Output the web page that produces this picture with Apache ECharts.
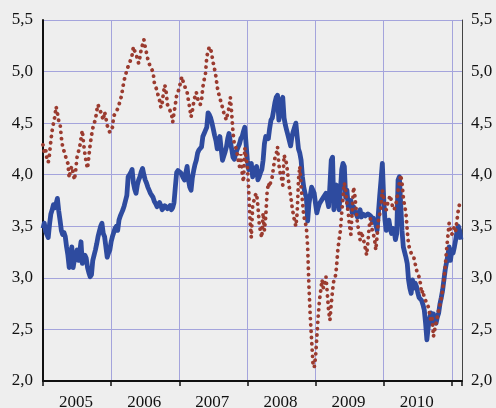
<!DOCTYPE html>
<html>
<head>
<meta charset="utf-8">
<script src="https://cdn.jsdelivr.net/npm/echarts@6/dist/echarts.min.js"></script>
<style>
  html, body { margin: 0; padding: 0; background: #eeeeee; }
  #chart { width: 496px; height: 408px; }
</style>
</head>
<body>
<div id="chart"></div>
<script>
// weekly readings, first week of 2005 onwards
var startYear = 2005;
var weeksPerYear = 52;
var yearLabels = ['2005', '2006', '2007', '2008', '2009', '2010'];

// blue solid series
var blueWeekly = [
  3.48,3.53,3.45,3.42,3.39,3.52,3.62,3.66,3.71,3.68,3.72,3.77,3.65,
  3.56,3.46,3.42,3.44,3.40,3.30,3.22,3.10,3.20,3.30,3.10,3.18,3.22,
  3.27,3.17,3.25,3.35,3.14,3.18,3.22,3.19,3.10,3.05,3.01,3.03,3.17,
  3.22,3.27,3.33,3.40,3.45,3.50,3.53,3.43,3.40,3.30,3.20,3.24,3.27,
  // 2006
  3.35,3.40,3.44,3.48,3.50,3.46,3.56,3.60,3.63,3.66,3.70,3.75,3.80,
  3.98,4.00,4.02,4.05,3.92,3.86,3.82,3.90,3.95,3.98,4.03,4.06,4.00,
  3.95,3.92,3.88,3.85,3.82,3.80,3.78,3.74,3.72,3.69,3.71,3.73,3.70,
  3.66,3.68,3.70,3.69,3.67,3.68,3.70,3.66,3.68,3.73,3.88,4.02,4.04,
  // 2007
  4.05,4.02,4.00,3.97,3.95,4.02,4.08,3.95,3.88,3.85,3.97,4.04,4.10,
  4.14,4.21,4.24,4.25,4.27,4.37,4.40,4.43,4.46,4.60,4.58,4.55,4.50,
  4.44,4.38,4.33,4.25,4.30,4.37,4.25,4.14,4.18,4.22,4.27,4.35,4.40,
  4.32,4.25,4.17,4.15,4.20,4.24,4.27,4.30,4.35,4.37,4.42,4.46,4.45,
  // 2008
  4.14,4.05,4.08,4.11,3.98,4.02,4.05,4.08,3.95,3.98,4.02,4.05,4.14,
  4.30,4.37,4.36,4.35,4.45,4.53,4.55,4.62,4.70,4.75,4.77,4.53,4.62,
  4.72,4.75,4.55,4.48,4.43,4.38,4.33,4.28,4.37,4.42,4.46,4.50,4.37,
  4.25,4.21,4.14,3.98,3.88,3.82,3.78,3.55,3.72,3.80,3.88,3.85,3.82,
  // 2009
  3.72,3.63,3.68,3.72,3.74,3.75,3.78,3.80,3.82,3.75,3.69,3.90,4.14,
  4.17,3.66,3.80,3.90,3.78,3.66,3.85,4.05,4.11,4.08,3.78,3.85,3.69,
  3.72,3.75,3.63,3.69,3.65,3.62,3.59,3.63,3.66,3.59,3.62,3.63,3.60,
  3.59,3.62,3.63,3.60,3.56,3.58,3.54,3.52,3.46,3.63,3.80,3.95,4.11,
  // 2010
  3.78,3.56,3.46,3.52,3.56,3.48,3.43,3.48,3.46,3.37,3.43,3.95,3.98,
  3.72,3.46,3.30,3.25,3.20,3.14,2.98,2.90,2.85,2.98,2.90,2.95,2.92,
  2.86,2.81,2.80,2.78,2.74,2.69,2.56,2.40,2.52,2.60,2.66,2.56,2.65,
  2.60,2.56,2.62,2.66,2.75,2.81,2.88,2.98,3.08,3.15,3.22,3.30,3.17,
  // 2011
  3.27,3.24,3.30,3.37,3.45,3.50,3.46,3.37
];

// red dotted series
var redWeekly = [
  4.29,4.22,4.25,4.15,4.12,4.20,4.33,4.43,4.50,4.56,4.66,4.60,4.52,
  4.50,4.36,4.27,4.28,4.19,4.14,4.11,3.97,4.05,4.08,4.02,3.95,4.05,
  4.17,4.22,4.27,4.35,4.43,4.30,4.20,4.12,4.06,4.18,4.29,4.38,4.45,
  4.50,4.53,4.62,4.68,4.64,4.61,4.57,4.53,4.61,4.55,4.48,4.44,4.41,
  // 2006
  4.44,4.46,4.57,4.59,4.61,4.64,4.68,4.72,4.77,4.85,4.92,4.96,5.02,
  5.05,5.08,5.12,5.16,5.24,5.20,5.18,5.12,5.08,5.14,5.22,5.26,5.31,
  5.24,5.18,5.12,5.08,5.04,5.02,5.00,4.89,4.85,4.82,4.76,4.72,4.65,
  4.70,4.80,4.87,4.80,4.68,4.65,4.62,4.60,4.51,4.60,4.68,4.77,4.80,
  // 2007
  4.84,4.90,4.95,4.90,4.87,4.82,4.80,4.72,4.65,4.56,4.62,4.70,4.76,
  4.80,4.74,4.70,4.68,4.72,4.85,4.92,4.98,5.14,5.20,5.24,5.22,5.21,
  5.08,5.02,4.95,4.85,4.79,4.74,4.70,4.65,4.60,4.56,4.53,4.60,4.65,
  4.75,4.60,4.41,4.30,4.27,4.22,4.14,4.08,4.20,4.02,3.93,4.26,4.17,
  // 2008
  4.08,3.85,3.56,3.39,3.69,3.75,3.80,3.82,3.70,3.53,3.45,3.39,3.63,
  3.46,3.59,3.82,3.92,3.88,3.95,3.98,4.08,4.16,4.20,4.27,4.10,4.02,
  3.97,3.90,4.19,4.15,4.10,3.98,3.88,3.80,3.70,3.62,3.55,3.50,3.63,
  3.95,4.08,3.88,3.75,3.60,3.55,3.49,3.30,2.91,2.62,2.40,2.18,2.13,
  // 2009
  2.23,2.43,2.62,2.78,2.88,2.98,2.90,2.95,3.01,2.85,2.68,2.59,2.75,
  2.88,2.98,3.00,3.10,3.27,3.37,3.46,3.63,3.78,3.92,3.85,3.72,3.63,
  3.50,3.42,3.65,3.88,3.80,3.66,3.53,3.46,3.37,3.45,3.40,3.35,3.29,
  3.22,3.35,3.50,3.58,3.48,3.43,3.38,3.27,3.40,3.56,3.62,3.69,3.85,
  // 2010
  3.78,3.72,3.66,3.72,3.76,3.80,3.74,3.68,3.66,3.70,3.75,3.85,3.92,
  4.00,3.92,3.78,3.70,3.63,3.46,3.32,3.28,3.24,3.22,3.20,3.14,3.08,
  3.04,3.01,2.95,2.85,2.88,2.80,2.78,2.75,2.72,2.66,2.59,2.62,2.43,
  2.50,2.56,2.62,2.69,2.74,2.80,2.88,2.98,3.11,3.27,3.40,3.53,3.46,
  // 2011
  3.42,3.45,3.50,3.46,3.56,3.66,3.72,3.75
];

function toPairs(arr) {
  return arr.map(function (v, i) { return [startYear + i / weeksPerYear, v]; });
}

function commaLabel(v) {
  return v.toFixed(1).replace('.', ',');
}

var labelFont = {
  fontFamily: 'Liberation Serif',
  fontSize: 17,
  color: '#111'
};

var chart = echarts.init(document.getElementById('chart'));
var option = {
  animation: false,
  backgroundColor: '#eeeeee',
  grid: {
    left: 43,
    right: 34,
    top: 20,
    bottom: 27,
    containLabel: false,
    outerBoundsMode: 'none'
  },
  xAxis: {
    type: 'value',
    min: 2005,
    max: 2011.15,
    interval: 1,
    axisLine: { show: true, onZero: false, lineStyle: { color: '#111', width: 2 } },
    axisTick: { show: true, inside: false, length: 5, lineStyle: { color: '#111', width: 1.5 } },
    splitLine: { show: true, lineStyle: { color: '#a4a4dc', width: 1 } },
    axisLabel: Object.assign({
      margin: 13,
      padding: [0, 0, 0, 66],
      formatter: function (v) {
        var k = yearLabels.indexOf(String(v));
        return k >= 0 ? yearLabels[k] : '';
      }
    }, labelFont)
  },
  yAxis: [
    {
      type: 'value',
      position: 'left',
      min: 2,
      max: 5.5,
      interval: 0.5,
      axisLine: { show: true, lineStyle: { color: '#111', width: 2 } },
      axisTick: { show: false },
      splitLine: { show: true, lineStyle: { color: '#a4a4dc', width: 1 } },
      axisLabel: Object.assign({ margin: 10, formatter: commaLabel }, labelFont)
    },
    {
      type: 'value',
      position: 'right',
      min: 2,
      max: 5.5,
      interval: 0.5,
      axisLine: { show: true, lineStyle: { color: '#444', width: 1 } },
      axisTick: { show: false },
      splitLine: { show: false },
      axisLabel: Object.assign({ margin: 9, formatter: commaLabel }, labelFont)
    }
  ],
  series: [
    {
      type: 'line',
      data: toPairs(blueWeekly),
      showSymbol: false,
      lineStyle: { color: '#2e4b9f', width: 4.8, join: 'round' }
    },
    {
      type: 'line',
      data: toPairs(redWeekly),
      showSymbol: false,
      lineStyle: { color: '#9b3b2f', width: 3.8, type: [0.1, 6.2], cap: 'round' }
    }
  ]
};
chart.setOption(option);
</script>
</body>
</html>
